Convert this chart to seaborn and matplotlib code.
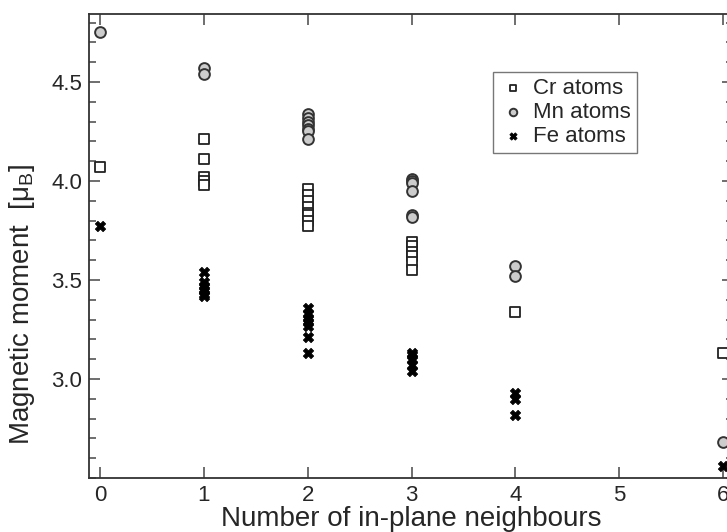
import matplotlib
matplotlib.use("Agg")
import matplotlib.pyplot as plt
import seaborn as sns
import pandas as pd
from matplotlib.ticker import MultipleLocator

# ---- data ----
cr_x = [0, 1, 1, 1, 1, 1, 2, 2, 2, 2, 2, 2, 2, 2, 3, 3, 3, 3, 3, 3, 4, 6]
cr_y = [4.07, 4.21, 4.11, 4.02, 4.00, 3.98,
        3.96, 3.93, 3.90, 3.87, 3.84, 3.83, 3.80, 3.77,
        3.69, 3.67, 3.64, 3.62, 3.59, 3.55, 3.34, 3.13]

mn_x = [0, 1, 1, 2, 2, 2, 2, 2, 2, 2, 3, 3, 3, 3, 3, 3, 4, 4, 6]
mn_y = [4.75, 4.57, 4.54,
        4.34, 4.32, 4.30, 4.28, 4.26, 4.25, 4.21,
        4.01, 4.00, 3.99, 3.95, 3.83, 3.82, 3.57, 3.52, 2.68]

fe_x = [0, 1, 1, 1, 1, 1, 1, 2, 2, 2, 2, 2, 2, 2, 3, 3, 3, 3, 3, 4, 4, 4, 6]
fe_y = [3.77, 3.54, 3.49, 3.47, 3.45, 3.43, 3.42,
        3.36, 3.33, 3.31, 3.29, 3.27, 3.21, 3.13,
        3.13, 3.12, 3.10, 3.07, 3.04, 2.93, 2.90, 2.82, 2.56]

series_names = ["Cr atoms", "Mn atoms", "Fe atoms"]
x_ticks = [0, 1, 2, 3, 4, 5, 6]
y_ticks = [3.0, 3.5, 4.0, 4.5]

sns.set_style("ticks")
plt.rcParams["font.family"] = ["Liberation Sans", "DejaVu Sans"]
plt.rcParams["mathtext.fontset"] = "custom"
plt.rcParams["mathtext.rm"] = "Liberation Sans"
plt.rcParams["mathtext.it"] = "Liberation Sans:italic"

fig = plt.figure(figsize=(7.27, 5.32), dpi=100)
ax = fig.add_axes([0.1224, 0.1015, 1.0088 - 0.1224, 0.9737 - 0.1015])

df_cr = pd.DataFrame({"x": cr_x, "y": cr_y})
df_mn = pd.DataFrame({"x": mn_x, "y": mn_y})
df_fe = pd.DataFrame({"x": fe_x, "y": fe_y})

sns.scatterplot(data=df_cr, x="x", y="y", ax=ax, marker="s", s=42,
                facecolor="white", edgecolor="#222222", linewidth=1.3,
                label=series_names[0], zorder=3)
sns.scatterplot(data=df_mn, x="x", y="y", ax=ax, marker="o", s=60,
                facecolor="#cccccc", edgecolor="#333333", linewidth=1.4,
                label=series_names[1], zorder=3)
sns.scatterplot(data=df_fe, x="x", y="y", ax=ax, marker="X", s=55,
                color="black", edgecolor="black", linewidth=0.6,
                label=series_names[2], zorder=3)

ax.set_xlim(-0.106, 6.1)
ax.set_ylim(2.5, 4.843)
ax.set_xticks(x_ticks)
ax.set_yticks(y_ticks)
ax.set_yticklabels([f"{v:.1f}" for v in y_ticks])
ax.yaxis.set_minor_locator(MultipleLocator(0.1))

ax.tick_params(which="both", direction="in", top=True, right=True,
               labelsize=16, color="#555555", width=1.2, pad=5)
ax.tick_params(which="major", length=8)
ax.tick_params(which="minor", length=5)
for sp in ax.spines.values():
    sp.set_linewidth(1.3)
    sp.set_color("#333333")

ax.set_xlabel("Number of in-plane neighbours", fontsize=20, labelpad=0)
ax.set_ylabel(r"Magnetic moment  [μ$_{\rm B}$]", fontsize=20)
ax.yaxis.set_label_coords(-0.08, 0.375)

leg = ax.legend(loc="upper left", bbox_to_anchor=(0.627, 0.875),
                borderaxespad=0, fontsize=16, frameon=True, fancybox=False,
                handletextpad=0.3, labelspacing=0.12, borderpad=0.28,
                handlelength=1.2, markerscale=0.7)
leg.get_frame().set_edgecolor("#555555")
leg.get_frame().set_linewidth(1.0)

fig.savefig("out.png", dpi=100)
